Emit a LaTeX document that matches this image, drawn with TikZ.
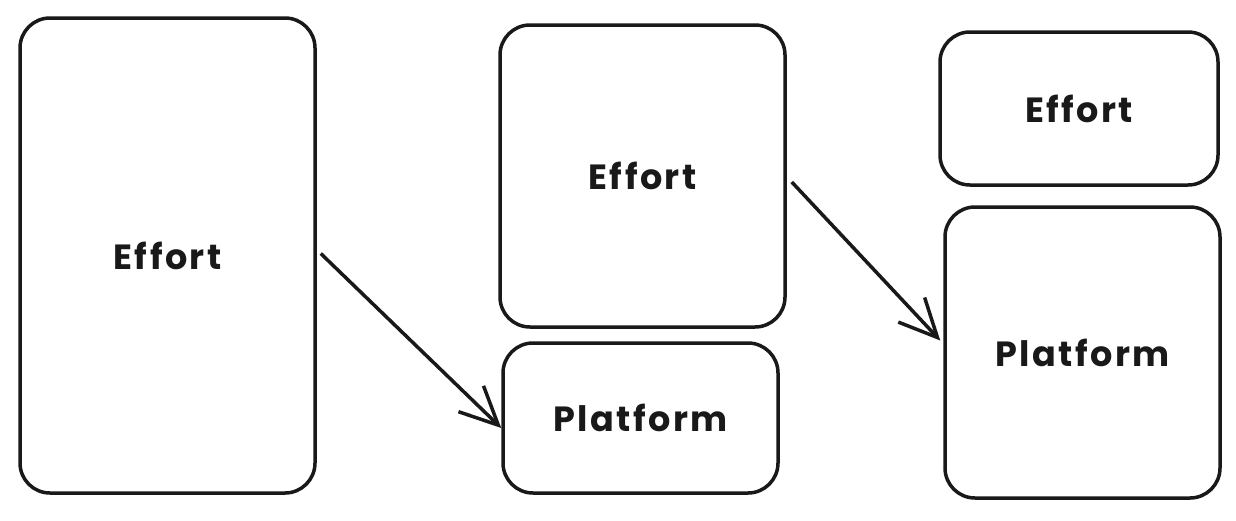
\documentclass[tikz,border=0pt]{standalone}
\usepackage{fontspec}
\setmainfont{Poppins}
\usetikzlibrary{arrows.meta,positioning}

\begin{document}
\begin{tikzpicture}[
  x=1pt, y=-1pt,
  box/.style={draw=black!90, line width=3.5pt, rounded corners=30pt, inner sep=0pt, text=black!90, font=\fontsize{35}{40}\selectfont\bfseries\addfontfeature{LetterSpace=7}},
  arr/.style={-{Straight Barb[length=38pt, width=36pt, line width=3.5pt]}, line width=3.5pt, draw=black!90},
]
  \useasboundingbox (0,0) rectangle (1236,520);
  \node[box, minimum width=295pt, minimum height=475pt] (eff1) at (167.5,255.5) {Effort};
  \node[box, minimum width=285pt, minimum height=302pt] (eff2) at (642.5,176) {Effort};
  \node[box, minimum width=275pt, minimum height=150pt] (plat2) at (640.5,418) {Platform};
  \node[box, minimum width=278pt, minimum height=153pt] (eff3) at (1079,108.5) {Effort};
  \node[box, minimum width=275pt, minimum height=291pt] (plat3) at (1082.5,352.5) {Platform};

  \draw[arr] ([shift={(4pt,2pt)}]eff1.east) -- ([yshift=-10pt]plat2.west);
  \draw[arr] ([shift={(5pt,-6pt)}]eff2.east) -- ([shift={(-3pt,12pt)}]plat3.west);
\end{tikzpicture}
\end{document}
